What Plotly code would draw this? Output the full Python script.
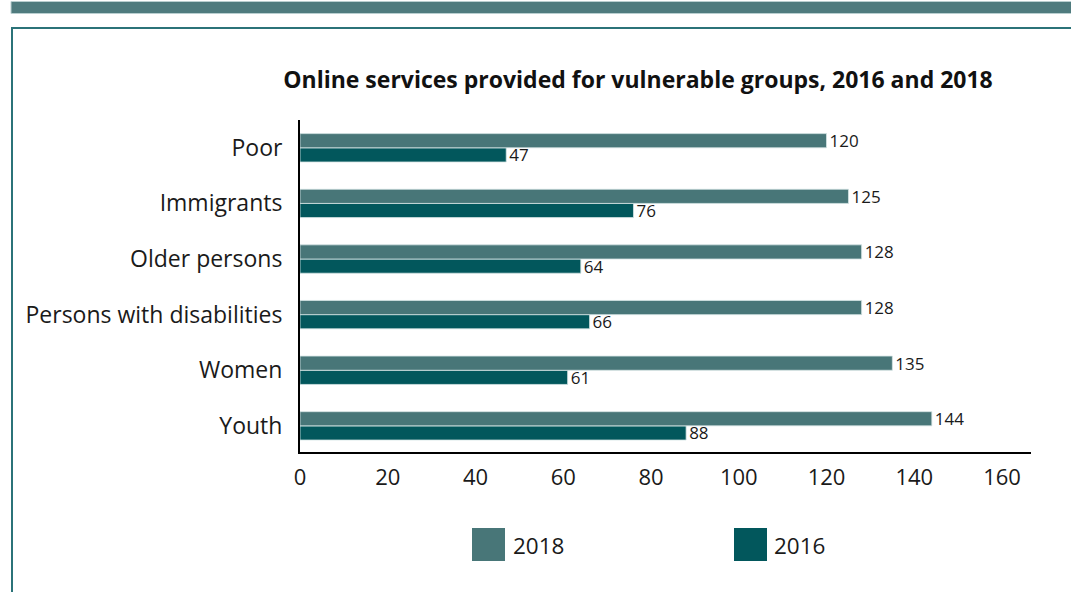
import plotly.graph_objects as go

categories = ["Poor", "Immigrants", "Older persons", "Persons with disabilities", "Women", "Youth"]
values_2018 = [120, 125, 128, 128, 135, 144]
values_2016 = [47, 76, 64, 66, 61, 88]
x_ticks = [0, 20, 40, 60, 80, 100, 120, 140, 160]

C2018 = "#487678"
C2016 = "#02575c"
FONT = "Open Sans"
TXT = "#1a1a1a"

fig = go.Figure()
# horizontal grouped bars: first trace is drawn lower in each group
fig.add_trace(go.Bar(
    y=categories, x=values_2016, name="2016", orientation="h",
    marker=dict(color=C2016, line=dict(color="#d5e4e4", width=0.8)),
    text=values_2016, textposition="outside", cliponaxis=False, constraintext="none",
    textfont=dict(size=17, color=TXT, family=FONT),
    showlegend=False,
))
fig.add_trace(go.Bar(
    y=categories, x=values_2018, name="2018", orientation="h",
    marker=dict(color=C2018, line=dict(color="#d5e4e4", width=0.8)),
    text=values_2018, textposition="outside", cliponaxis=False, constraintext="none",
    textfont=dict(size=17, color=TXT, family=FONT),
    showlegend=False,
))

# page decoration: top band and bordered box
fig.add_shape(type="rect", xref="paper", yref="paper",
              x0=(11 - 300) / 731, x1=1.1, y0=(452 - 13.5) / 332, y1=(452 - 1.5) / 332,
              fillcolor="#4f7b7e", line=dict(color="#b9cfd0", width=1), layer="below")
fig.add_shape(type="rect", xref="paper", yref="paper",
              x0=(12 - 300) / 731, x1=1.2, y0=-0.6, y1=(452 - 28) / 332,
              fillcolor="rgba(0,0,0,0)", line=dict(color="#2b7379", width=2), layer="below")

# custom legend with large square swatches
legend_items = [("2018", C2018, 472, 511), ("2016", C2016, 734, 772)]
for label, col, sx, tx in legend_items:
    fig.add_shape(type="rect", xref="paper", yref="paper",
                  x0=(sx - 300) / 731, x1=(sx + 33 - 300) / 731,
                  y0=(452 - 561) / 332, y1=(452 - 528) / 332,
                  fillcolor=col, line=dict(width=0))
    fig.add_annotation(text=label, xref="paper", yref="paper",
                       x=(tx - 300) / 731, y=(452 - 545) / 332,
                       xanchor="left", yanchor="middle", showarrow=False,
                       font=dict(size=22.5, color=TXT, family=FONT))

fig.update_layout(
    width=1071, height=592,
    margin=dict(l=300, r=40, t=120, b=140),
    paper_bgcolor="white", plot_bgcolor="white",
    barmode="group", bargap=0.49, bargroupgap=0,
    title=dict(text="<b>Online services provided for vulnerable groups, 2016 and 2018</b>",
               x=638 / 1071, xanchor="center", y=1 - 80 / 592, yanchor="middle",
               font=dict(size=23, color="#111111", family=FONT)),
    font=dict(family=FONT, color=TXT),
    showlegend=False,
)
fig.update_xaxes(
    range=[0, 166.6], tickvals=x_ticks, ticktext=[str(t) for t in x_ticks],
    showgrid=False, zeroline=False, showline=True, linecolor="black", linewidth=2,
    ticks="outside", ticklen=5, tickcolor="rgba(0,0,0,0)",
    tickfont=dict(size=22, family=FONT, color=TXT),
)
fig.update_yaxes(
    categoryorder="array", categoryarray=categories[::-1],
    range=[-0.47, 5.5],
    showgrid=False, zeroline=False, showline=True, linecolor="black", linewidth=2,
    ticks="outside", ticklen=11, tickcolor="rgba(0,0,0,0)",
    tickfont=dict(size=23, family=FONT, color=TXT),
)

fig.write_html("out.html", config={"displayModeBar": False},
               post_script="document.body.style.margin='0';document.body.style.overflow='hidden';")
